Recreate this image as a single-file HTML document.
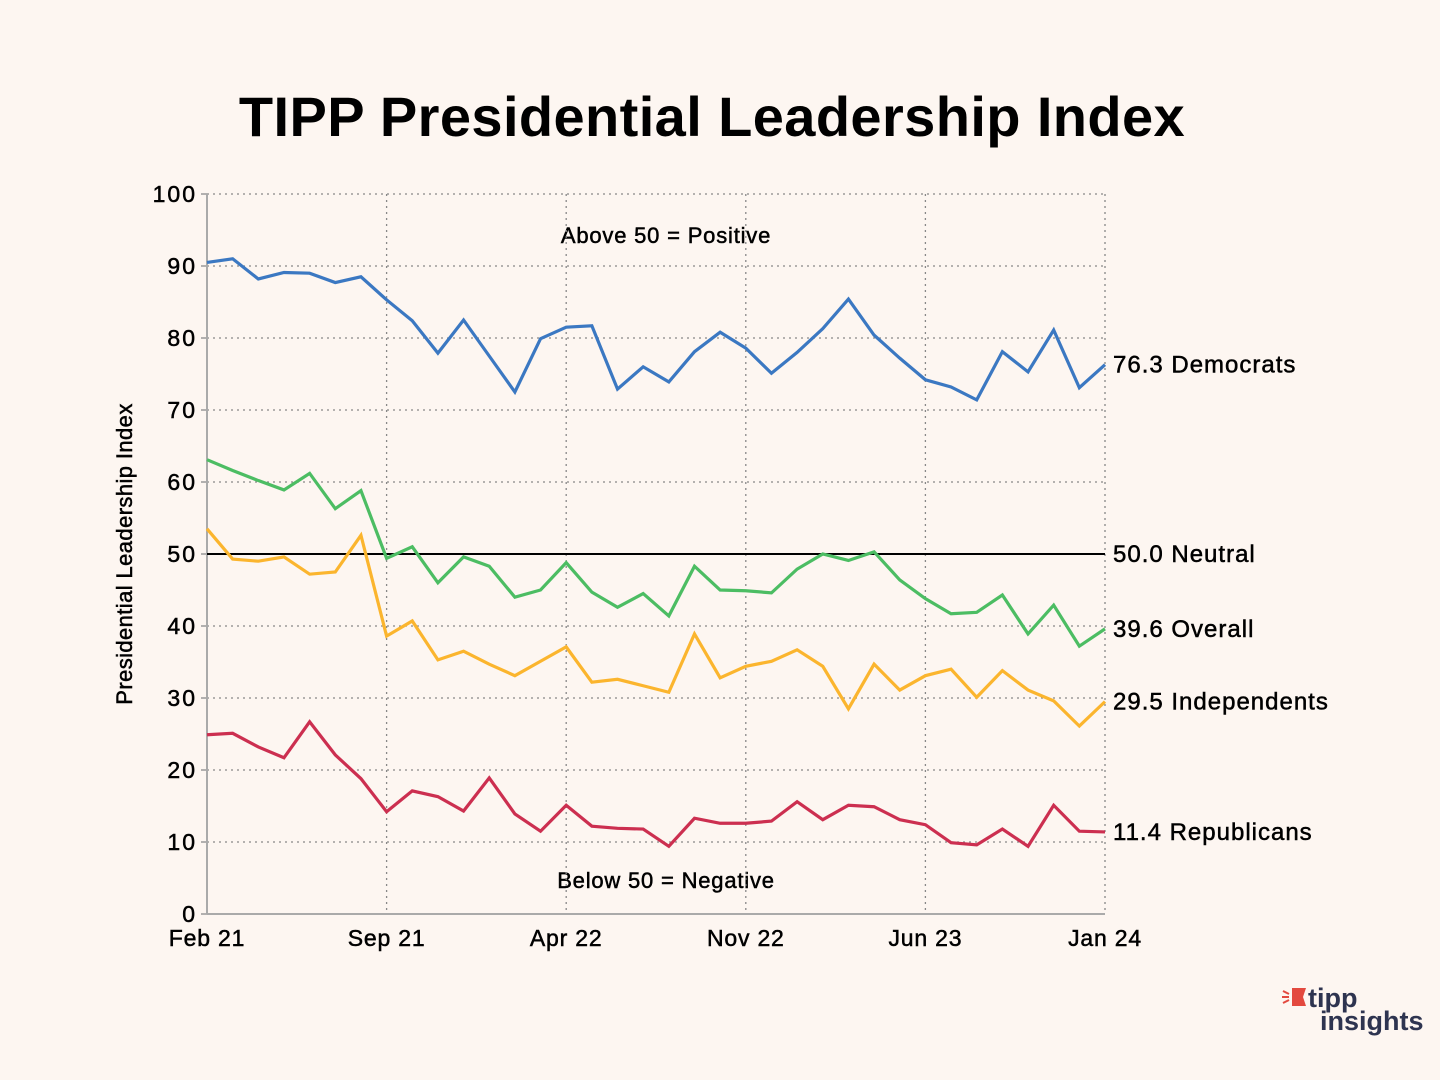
<!DOCTYPE html>
<html><head><meta charset="utf-8">
<style>
html,body{margin:0;padding:0;background:#fdf6f1;}
svg{display:block;font-family:"Liberation Sans","DejaVu Sans",sans-serif;}
.t{stroke:#000;stroke-width:0.5;}
</style></head>
<body>
<svg id="chart" width="1440" height="1080" viewBox="0 0 1440 1080">
<rect width="1440" height="1080" fill="#fdf6f1"/>
<text x="712" y="136" text-anchor="middle" font-size="56" font-weight="bold" fill="#000" letter-spacing="0.4">TIPP Presidential Leadership Index</text>
<text class="t" transform="translate(132,554) rotate(-90)" text-anchor="middle" font-size="22" letter-spacing="0.4" fill="#000">Presidential Leadership Index</text>
<text class="t" x="666" y="243" text-anchor="middle" font-size="22" letter-spacing="0.8" fill="#000">Above 50 = Positive</text>
<text class="t" x="666" y="888" text-anchor="middle" font-size="22" letter-spacing="0.8" fill="#000">Below 50 = Negative</text>
<g id="grid"></g><g id="axes"></g><g id="series"></g><g id="labels"></g>
<g>
<polygon points="1292,988 1306,988 1303,997 1306,1006 1292,1006" fill="#e3493f"/>
<path d="M1283,991 l6,3 M1282,997 h7 M1283,1003 l6,-3" stroke="#e3493f" stroke-width="2"/>
<text x="1308" y="1007" font-size="27" font-weight="bold" fill="#2e3450">tipp</text>
<text x="1320" y="1030" font-size="27" font-weight="bold" fill="#2e3450">insights</text>
</g>
</svg>
<script>
const months = ["Feb 21","Mar 21","Apr 21","May 21","Jun 21","Jul 21","Aug 21","Sep 21","Oct 21","Nov 21","Dec 21","Jan 22","Feb 22","Mar 22","Apr 22","May 22","Jun 22","Jul 22","Aug 22","Sep 22","Oct 22","Nov 22","Dec 22","Jan 23","Feb 23","Mar 23","Apr 23","May 23","Jun 23","Jul 23","Aug 23","Sep 23","Oct 23","Nov 23","Dec 23","Jan 24"];
const democrats = [90.5,91.0,88.2,89.1,89.0,87.7,88.5,85.3,82.4,77.9,82.5,77.5,72.5,79.9,81.5,81.7,72.9,76.0,73.9,78.1,80.8,78.6,75.1,78.0,81.3,85.4,80.4,77.2,74.2,73.2,71.4,78.1,75.3,81.1,73.1,76.3];
const overall = [63.1,61.6,60.2,58.9,61.2,56.3,58.8,49.4,51.0,46.0,49.6,48.3,44.0,45.0,48.8,44.7,42.6,44.5,41.4,48.3,45.0,44.9,44.6,47.9,50.0,49.1,50.3,46.4,43.8,41.7,41.9,44.3,38.9,42.9,37.2,39.6];
const independents = [53.5,49.3,49.0,49.6,47.2,47.5,52.6,38.6,40.7,35.3,36.5,34.7,33.1,35.1,37.1,32.2,32.6,31.7,30.8,38.9,32.8,34.4,35.1,36.7,34.4,28.5,34.7,31.1,33.1,34.0,30.1,33.8,31.1,29.6,26.1,29.5];
const republicans = [24.9,25.1,23.2,21.7,26.7,22.1,18.8,14.2,17.1,16.3,14.3,18.9,13.9,11.5,15.1,12.2,11.9,11.8,9.4,13.3,12.6,12.6,12.9,15.6,13.1,15.1,14.9,13.1,12.4,9.9,9.6,11.8,9.4,15.1,11.5,11.4];
const yTicks = [0,10,20,30,40,50,60,70,80,90,100];
const xTickIdx = [0,7,14,21,28,35];
const xTickLabels = ["Feb 21","Sep 21","Apr 22","Nov 22","Jun 23","Jan 24"];
const neutral = 50.0;

const NS="http://www.w3.org/2000/svg";
const X0=207,X1=1105,Y0=914,Y1=194;
function xs(i){return X0+(X1-X0)*i/(months.length-1);}
function ys(v){return Y0-(Y0-Y1)*v/100;}
function mk(tag,attrs,parent){const e=document.createElementNS(NS,tag);for(const k in attrs)e.setAttribute(k,attrs[k]);parent.appendChild(e);return e;}
const grid=document.getElementById('grid'),axes=document.getElementById('axes'),ser=document.getElementById('series'),lab=document.getElementById('labels');

yTicks.forEach(t=>{
  if(t>0){const g=mk('line',{x1:X0,x2:X1,y1:ys(t),y2:ys(t),stroke:'#888','stroke-width':1.3,'stroke-dasharray':'2,4'},grid);
  
  }
  const tk=mk('line',{x1:X0-6,x2:X0,y1:ys(t),y2:ys(t),stroke:'#999','stroke-width':1.5},axes);
  
  
  const tx=mk('text',{x:X0-10,y:ys(t)+8,'text-anchor':'end','font-size':23,'letter-spacing':2,fill:'#000',class:'t'},axes);
  tx.textContent=t;
  
  
});
xTickIdx.forEach((idx,k)=>{
  if(idx>0){const g=mk('line',{x1:xs(idx),x2:xs(idx),y1:Y1,y2:Y0,stroke:'#888','stroke-width':1.3,'stroke-dasharray':'2,4'},grid);
  
  }
  const tx=mk('text',{x:xs(idx),y:946,'text-anchor':'middle','font-size':23,'letter-spacing':0.8,fill:'#000',class:'t'},axes);
  tx.textContent=xTickLabels[k];
  
  
});
const ya=mk('line',{x1:X0,x2:X0,y1:Y1,y2:Y0,stroke:'#aaa','stroke-width':2},axes);


const xa=mk('line',{x1:X0,x2:X1,y1:Y0,y2:Y0,stroke:'#aaa','stroke-width':2},axes);


const nl=mk('line',{x1:X0,x2:X1,y1:ys(neutral),y2:ys(neutral),stroke:'#000','stroke-width':2},ser);



const defs=[["democrats",democrats,"#3b78c2","Democrats"],["overall",overall,"#4cbd63","Overall"],["independents",independents,"#fbb52e","Independents"],["republicans",republicans,"#cc2f50","Republicans"]];
defs.forEach(([name,vals,col,lbl])=>{
  const p=mk('polyline',{points:vals.map((v,i)=>xs(i)+','+ys(v)).join(' '),fill:'none',stroke:col,'stroke-width':3.2,'stroke-linejoin':'miter'},ser);
  
  
  const last=vals[vals.length-1];
  const t=mk('text',{x:1113,y:ys(last)+8,'font-size':24,'letter-spacing':1,fill:'#000',class:'t'},lab);
  t.textContent=last.toFixed(1)+' '+lbl;
  
  
});
const nt=mk('text',{x:1113,y:ys(neutral)+8,'font-size':24,'letter-spacing':1,fill:'#000',class:'t'},lab);
nt.textContent=neutral.toFixed(1)+' Neutral';


</script>
</body></html>
